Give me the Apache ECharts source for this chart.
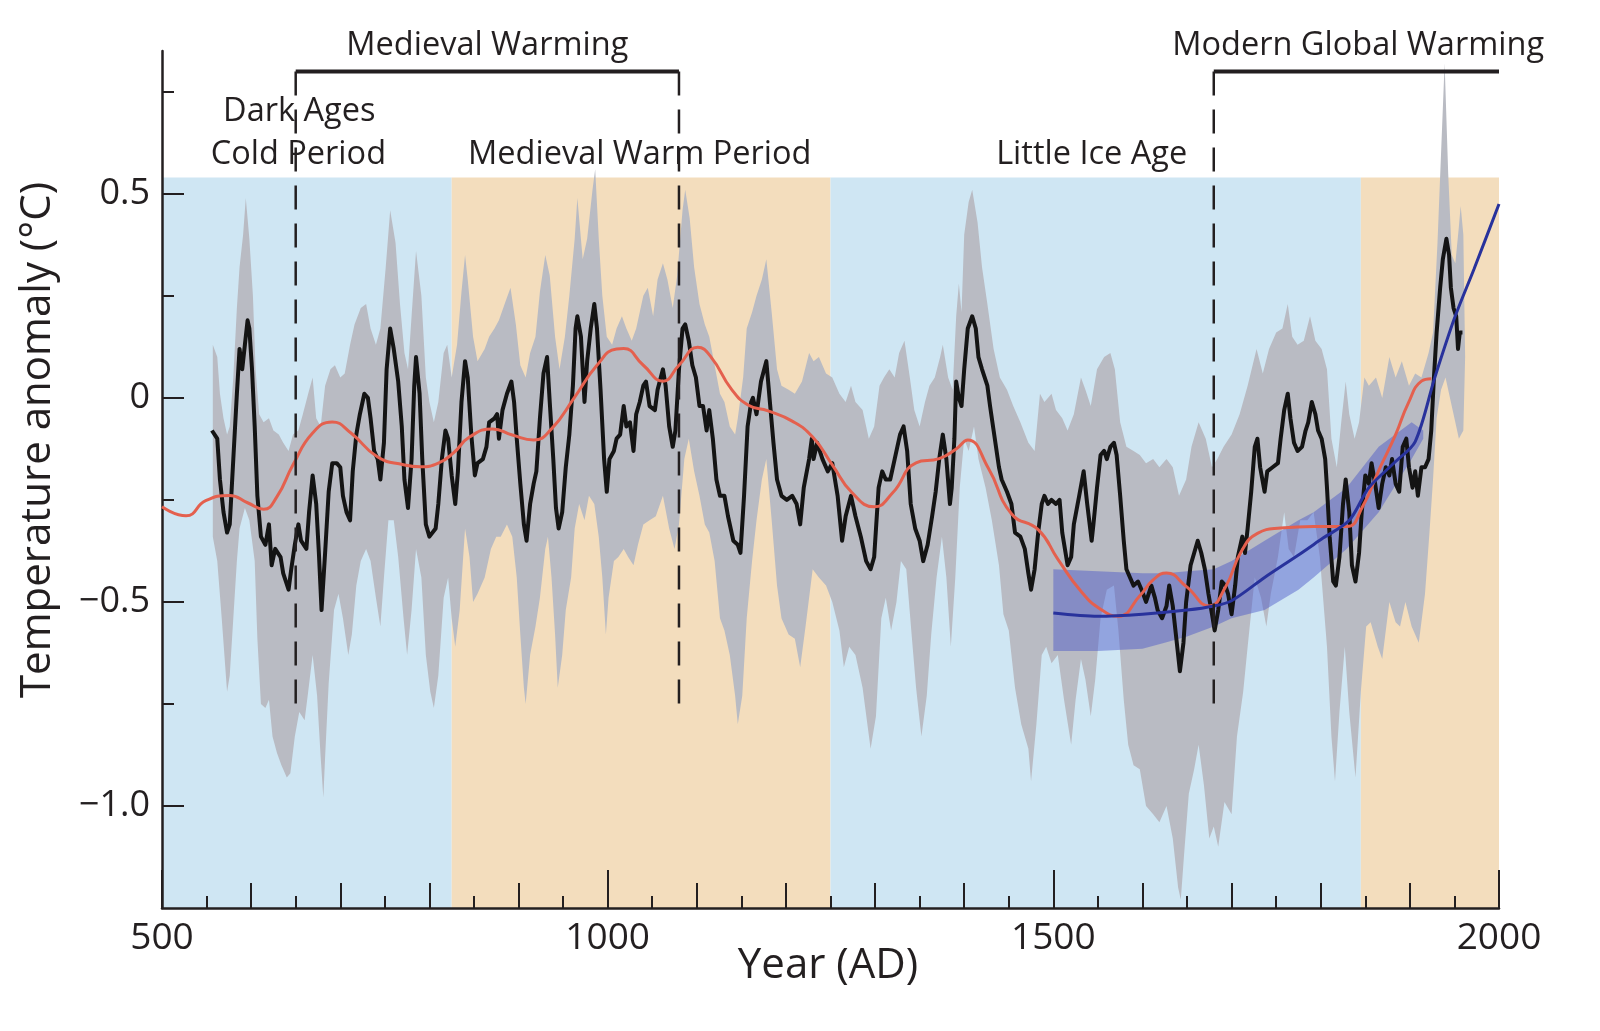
<!DOCTYPE html>
<html>
<head>
<meta charset="utf-8">
<title>Temperature anomaly 500-2000 AD</title>
<script src="https://cdn.jsdelivr.net/npm/echarts@6/dist/echarts.min.js"></script>
<style>
  html, body { margin: 0; padding: 0; background: #fff; }
  #chart { width: 1600px; height: 1031px; }
</style>
</head>
<body>
<div id="chart"></div>
<script>
// values: [year AD, anomaly in degC]
const blackLine = [[556,-0.08],[562,-0.10],[565,-0.20],[569,-0.28],[573,-0.33],[576,-0.31],[580,-0.15],[584,0.01],[587,0.12],[590,0.07],[593,0.13],[596,0.19],[598,0.17],[601,0.07],[604,-0.07],[607,-0.24],[611,-0.34],[616,-0.36],[620,-0.31],[623,-0.41],[627,-0.37],[633,-0.39],[636,-0.43],[642,-0.47],[645,-0.42],[649,-0.36],[653,-0.31],[656,-0.35],[662,-0.37],[665,-0.28],[669,-0.19],[673,-0.26],[676,-0.38],[679,-0.52],[683,-0.38],[687,-0.23],[691,-0.16],[696,-0.16],[700,-0.17],[703,-0.24],[707,-0.28],[711,-0.30],[714,-0.18],[718,-0.09],[722,-0.04],[727,0.01],[731,0.00],[734,-0.05],[738,-0.13],[742,-0.15],[745,-0.20],[749,-0.11],[752,0.07],[756,0.17],[760,0.12],[765,0.04],[769,-0.07],[772,-0.20],[776,-0.27],[780,-0.15],[783,0.03],[785,0.10],[789,0.01],[792,-0.15],[796,-0.31],[800,-0.34],[807,-0.32],[810,-0.26],[814,-0.15],[818,-0.08],[821,-0.10],[825,-0.19],[829,-0.26],[832,-0.18],[836,-0.01],[840,0.09],[843,0.05],[847,-0.09],[851,-0.19],[854,-0.16],[860,-0.15],[864,-0.12],[867,-0.06],[873,-0.05],[876,-0.04],[878,-0.10],[882,-0.03],[887,0.01],[892,0.04],[895,-0.01],[898,-0.10],[902,-0.21],[906,-0.31],[909,-0.35],[913,-0.26],[917,-0.21],[920,-0.18],[924,-0.05],[928,0.06],[932,0.10],[935,-0.01],[939,-0.15],[942,-0.27],[945,-0.32],[949,-0.28],[953,-0.17],[957,-0.09],[961,0.03],[964,0.17],[966,0.20],[970,0.15],[974,-0.01],[977,0.09],[981,0.17],[985,0.23],[988,0.17],[992,0.02],[996,-0.15],[999,-0.23],[1002,-0.15],[1007,-0.13],[1010,-0.10],[1014,-0.09],[1018,-0.02],[1021,-0.07],[1025,-0.06],[1029,-0.13],[1032,-0.04],[1036,-0.01],[1040,0.03],[1043,0.04],[1047,-0.02],[1053,-0.03],[1056,0.02],[1062,0.07],[1065,0.03],[1069,-0.07],[1073,-0.12],[1076,-0.08],[1080,0.07],[1084,0.17],[1087,0.18],[1091,0.14],[1095,0.08],[1099,0.05],[1103,-0.02],[1107,-0.02],[1111,-0.08],[1114,-0.03],[1118,-0.10],[1122,-0.20],[1126,-0.24],[1131,-0.24],[1135,-0.29],[1141,-0.35],[1146,-0.36],[1149,-0.38],[1153,-0.24],[1157,-0.07],[1161,-0.01],[1163,0.00],[1167,-0.04],[1172,0.04],[1178,0.09],[1182,-0.01],[1186,-0.11],[1190,-0.20],[1195,-0.24],[1201,-0.25],[1207,-0.24],[1212,-0.26],[1216,-0.31],[1220,-0.22],[1226,-0.15],[1229,-0.10],[1231,-0.15],[1235,-0.11],[1241,-0.15],[1247,-0.18],[1252,-0.16],[1258,-0.24],[1263,-0.35],[1267,-0.29],[1273,-0.24],[1278,-0.29],[1284,-0.34],[1290,-0.40],[1295,-0.42],[1299,-0.39],[1304,-0.22],[1308,-0.18],[1312,-0.20],[1317,-0.20],[1322,-0.15],[1328,-0.09],[1332,-0.07],[1336,-0.13],[1340,-0.26],[1345,-0.32],[1350,-0.35],[1354,-0.40],[1359,-0.36],[1364,-0.29],[1368,-0.23],[1372,-0.15],[1376,-0.09],[1380,-0.15],[1384,-0.26],[1386,-0.22],[1389,-0.10],[1391,0.04],[1394,0.00],[1397,-0.02],[1400,0.07],[1404,0.17],[1409,0.20],[1413,0.17],[1416,0.10],[1420,0.07],[1426,0.03],[1429,-0.02],[1433,-0.08],[1439,-0.17],[1442,-0.20],[1448,-0.23],[1453,-0.26],[1457,-0.33],[1463,-0.34],[1468,-0.37],[1472,-0.43],[1475,-0.47],[1479,-0.42],[1483,-0.33],[1487,-0.26],[1490,-0.24],[1494,-0.26],[1498,-0.25],[1503,-0.26],[1507,-0.25],[1510,-0.33],[1516,-0.41],[1520,-0.39],[1523,-0.31],[1529,-0.24],[1534,-0.18],[1538,-0.26],[1543,-0.35],[1545,-0.31],[1549,-0.22],[1553,-0.14],[1557,-0.13],[1560,-0.15],[1564,-0.12],[1568,-0.11],[1571,-0.14],[1575,-0.24],[1579,-0.35],[1582,-0.42],[1586,-0.44],[1590,-0.46],[1595,-0.45],[1599,-0.47],[1604,-0.50],[1610,-0.46],[1614,-0.49],[1617,-0.52],[1622,-0.54],[1627,-0.51],[1630,-0.46],[1634,-0.51],[1638,-0.59],[1642,-0.67],[1646,-0.60],[1649,-0.50],[1654,-0.41],[1658,-0.38],[1662,-0.35],[1666,-0.38],[1670,-0.42],[1674,-0.48],[1678,-0.53],[1681,-0.57],[1685,-0.52],[1689,-0.45],[1693,-0.46],[1696,-0.48],[1700,-0.53],[1704,-0.46],[1707,-0.39],[1712,-0.34],[1715,-0.38],[1718,-0.32],[1722,-0.23],[1726,-0.12],[1729,-0.10],[1732,-0.17],[1737,-0.23],[1740,-0.18],[1746,-0.17],[1752,-0.16],[1755,-0.10],[1759,-0.03],[1763,0.01],[1766,-0.05],[1770,-0.11],[1774,-0.13],[1779,-0.12],[1783,-0.08],[1786,-0.06],[1790,-0.01],[1794,-0.04],[1797,-0.08],[1801,-0.10],[1805,-0.15],[1807,-0.22],[1810,-0.34],[1814,-0.45],[1817,-0.46],[1821,-0.39],[1825,-0.26],[1828,-0.20],[1832,-0.28],[1835,-0.41],[1839,-0.45],[1843,-0.38],[1846,-0.28],[1850,-0.19],[1854,-0.21],[1857,-0.16],[1861,-0.21],[1865,-0.27],[1869,-0.21],[1873,-0.17],[1877,-0.19],[1880,-0.15],[1884,-0.21],[1888,-0.23],[1892,-0.12],[1896,-0.10],[1899,-0.17],[1903,-0.22],[1906,-0.18],[1909,-0.24],[1913,-0.17],[1917,-0.17],[1921,-0.15],[1924,-0.08],[1927,0.05],[1930,0.16],[1934,0.27],[1937,0.34],[1941,0.39],[1944,0.35],[1946,0.27],[1949,0.22],[1952,0.20],[1954,0.12],[1956,0.16],[1959,0.16]];

const greyTop = [[557,0.13],[562,0.10],[565,0.01],[569,-0.05],[573,-0.09],[576,-0.07],[580,0.05],[584,0.22],[587,0.32],[591,0.40],[594,0.49],[598,0.39],[602,0.25],[605,0.07],[609,-0.04],[614,-0.06],[620,-0.05],[625,-0.08],[631,-0.09],[636,-0.11],[642,-0.13],[647,-0.09],[653,-0.08],[658,-0.04],[664,0.01],[669,0.05],[673,-0.05],[678,-0.07],[683,0.03],[689,0.07],[694,0.08],[700,0.05],[705,0.06],[711,0.13],[716,0.18],[723,0.22],[729,0.23],[734,0.17],[740,0.13],[745,0.17],[751,0.32],[756,0.46],[762,0.38],[767,0.23],[772,0.11],[776,0.07],[780,0.20],[785,0.36],[791,0.25],[796,0.05],[800,-0.01],[805,-0.06],[810,-0.01],[816,0.11],[820,0.13],[825,0.05],[831,0.13],[836,0.26],[840,0.35],[843,0.29],[849,0.15],[854,0.09],[862,0.12],[867,0.15],[873,0.17],[878,0.19],[886,0.24],[891,0.27],[897,0.18],[902,0.08],[908,0.05],[913,0.11],[919,0.15],[924,0.26],[930,0.35],[935,0.30],[941,0.15],[946,0.07],[952,0.15],[957,0.25],[963,0.39],[966,0.49],[972,0.34],[977,0.39],[983,0.51],[986,0.56],[990,0.39],[994,0.25],[999,0.15],[1005,0.13],[1010,0.17],[1016,0.20],[1021,0.17],[1027,0.14],[1032,0.17],[1040,0.25],[1045,0.27],[1051,0.20],[1056,0.29],[1062,0.33],[1067,0.29],[1073,0.22],[1078,0.30],[1084,0.46],[1087,0.51],[1092,0.44],[1097,0.32],[1103,0.23],[1109,0.18],[1114,0.15],[1120,0.08],[1126,0.01],[1131,-0.01],[1137,-0.07],[1143,-0.09],[1146,-0.05],[1152,0.05],[1156,0.17],[1162,0.21],[1167,0.25],[1173,0.29],[1178,0.34],[1184,0.21],[1190,0.07],[1195,0.03],[1203,0.02],[1210,0.01],[1218,0.04],[1226,0.11],[1231,0.09],[1237,0.10],[1245,0.06],[1252,0.05],[1260,0.01],[1267,-0.01],[1273,0.03],[1278,-0.01],[1286,-0.03],[1293,-0.10],[1299,-0.07],[1305,0.03],[1310,0.05],[1316,0.07],[1322,0.05],[1327,0.11],[1333,0.14],[1339,0.05],[1344,-0.03],[1350,-0.07],[1356,-0.01],[1361,0.03],[1367,0.05],[1373,0.10],[1376,0.13],[1382,0.05],[1387,0.02],[1391,0.20],[1394,0.28],[1397,0.21],[1400,0.40],[1405,0.48],[1409,0.51],[1415,0.43],[1420,0.32],[1426,0.23],[1433,0.12],[1440,0.05],[1448,0.02],[1455,-0.02],[1463,-0.06],[1472,-0.11],[1479,-0.13],[1485,0.01],[1490,-0.01],[1498,0.01],[1503,-0.03],[1510,-0.05],[1516,-0.08],[1523,-0.04],[1531,0.05],[1536,0.02],[1542,-0.02],[1549,0.07],[1557,0.10],[1564,0.11],[1569,0.07],[1575,-0.06],[1582,-0.12],[1590,-0.13],[1597,-0.14],[1604,-0.16],[1612,-0.15],[1619,-0.17],[1627,-0.15],[1634,-0.17],[1641,-0.24],[1649,-0.20],[1655,-0.12],[1663,-0.06],[1671,-0.10],[1678,-0.17],[1684,-0.15],[1691,-0.12],[1700,-0.09],[1709,-0.04],[1718,0.03],[1728,0.12],[1735,0.06],[1742,0.12],[1750,0.16],[1757,0.17],[1763,0.23],[1768,0.15],[1774,0.13],[1781,0.14],[1788,0.20],[1794,0.14],[1801,0.12],[1807,0.07],[1812,-0.10],[1818,-0.17],[1823,-0.06],[1828,0.04],[1832,-0.04],[1838,-0.10],[1843,-0.06],[1849,0.05],[1854,0.03],[1862,0.05],[1869,0.00],[1877,0.10],[1884,0.05],[1891,0.09],[1899,0.03],[1906,0.06],[1913,0.05],[1921,0.11],[1926,0.16],[1931,0.38],[1935,0.60],[1939,0.82],[1943,0.55],[1947,0.35],[1951,0.33],[1955,0.42],[1957,0.47],[1960,0.40],[1962,0.10]];

const greyBottom = [[557,-0.34],[562,-0.40],[567,-0.54],[573,-0.72],[576,-0.68],[580,-0.54],[584,-0.40],[587,-0.32],[593,-0.27],[598,-0.30],[604,-0.40],[607,-0.59],[611,-0.75],[616,-0.76],[620,-0.74],[624,-0.83],[629,-0.87],[634,-0.90],[640,-0.93],[644,-0.92],[649,-0.83],[654,-0.77],[660,-0.79],[664,-0.72],[669,-0.63],[674,-0.73],[678,-0.88],[681,-0.98],[683,-0.88],[687,-0.70],[693,-0.52],[698,-0.48],[703,-0.54],[709,-0.63],[713,-0.58],[718,-0.46],[723,-0.40],[729,-0.37],[734,-0.40],[740,-0.49],[745,-0.56],[749,-0.44],[754,-0.30],[760,-0.30],[765,-0.39],[771,-0.54],[775,-0.63],[780,-0.52],[785,-0.37],[791,-0.44],[796,-0.63],[801,-0.72],[805,-0.76],[810,-0.68],[816,-0.49],[821,-0.44],[825,-0.54],[829,-0.61],[834,-0.52],[840,-0.32],[845,-0.39],[849,-0.50],[854,-0.48],[862,-0.44],[869,-0.37],[875,-0.34],[880,-0.34],[887,-0.31],[893,-0.34],[898,-0.44],[902,-0.58],[906,-0.71],[908,-0.75],[913,-0.63],[919,-0.56],[924,-0.49],[930,-0.37],[933,-0.34],[937,-0.44],[941,-0.58],[944,-0.71],[949,-0.63],[953,-0.52],[959,-0.44],[963,-0.32],[968,-0.26],[974,-0.30],[979,-0.24],[985,-0.26],[990,-0.34],[994,-0.44],[998,-0.58],[1001,-0.49],[1007,-0.40],[1012,-0.39],[1018,-0.37],[1023,-0.39],[1029,-0.41],[1034,-0.36],[1040,-0.31],[1047,-0.30],[1054,-0.29],[1062,-0.24],[1069,-0.32],[1075,-0.37],[1080,-0.31],[1086,-0.15],[1091,-0.10],[1097,-0.18],[1103,-0.24],[1109,-0.31],[1114,-0.33],[1120,-0.40],[1126,-0.54],[1131,-0.57],[1137,-0.63],[1143,-0.73],[1146,-0.80],[1151,-0.73],[1156,-0.54],[1162,-0.40],[1167,-0.30],[1173,-0.20],[1178,-0.15],[1184,-0.30],[1190,-0.46],[1195,-0.54],[1203,-0.58],[1210,-0.59],[1216,-0.66],[1222,-0.56],[1230,-0.42],[1237,-0.44],[1245,-0.46],[1252,-0.50],[1260,-0.57],[1265,-0.66],[1271,-0.61],[1278,-0.63],[1286,-0.71],[1292,-0.81],[1295,-0.86],[1301,-0.78],[1307,-0.54],[1312,-0.49],[1318,-0.57],[1324,-0.50],[1329,-0.40],[1335,-0.42],[1341,-0.58],[1346,-0.71],[1352,-0.83],[1358,-0.73],[1363,-0.58],[1369,-0.44],[1375,-0.34],[1380,-0.44],[1385,-0.61],[1390,-0.44],[1395,-0.22],[1400,-0.10],[1405,-0.13],[1411,-0.07],[1416,-0.15],[1424,-0.22],[1431,-0.30],[1439,-0.41],[1444,-0.53],[1450,-0.57],[1457,-0.71],[1464,-0.80],[1472,-0.86],[1475,-0.94],[1481,-0.80],[1487,-0.63],[1492,-0.61],[1498,-0.65],[1505,-0.63],[1512,-0.74],[1520,-0.85],[1525,-0.74],[1531,-0.64],[1536,-0.69],[1542,-0.78],[1547,-0.69],[1553,-0.54],[1560,-0.47],[1568,-0.46],[1573,-0.57],[1579,-0.74],[1584,-0.85],[1590,-0.90],[1597,-0.91],[1604,-1.00],[1612,-1.02],[1619,-1.04],[1627,-1.00],[1634,-1.08],[1640,-1.20],[1643,-1.23],[1647,-1.11],[1652,-0.97],[1658,-0.91],[1663,-0.85],[1669,-0.95],[1675,-1.08],[1680,-1.05],[1685,-1.10],[1692,-0.99],[1700,-1.02],[1706,-0.83],[1713,-0.72],[1718,-0.61],[1726,-0.44],[1733,-0.49],[1739,-0.56],[1744,-0.48],[1752,-0.39],[1759,-0.28],[1764,-0.37],[1770,-0.39],[1777,-0.30],[1785,-0.30],[1792,-0.28],[1799,-0.39],[1807,-0.61],[1812,-0.83],[1816,-0.94],[1821,-0.77],[1827,-0.61],[1832,-0.77],[1839,-0.93],[1845,-0.72],[1851,-0.56],[1856,-0.55],[1864,-0.61],[1869,-0.64],[1877,-0.50],[1884,-0.55],[1889,-0.56],[1895,-0.50],[1902,-0.56],[1910,-0.60],[1917,-0.48],[1922,-0.33],[1926,-0.20],[1930,-0.05],[1935,0.02],[1940,0.05],[1945,0.00],[1950,-0.05],[1955,-0.10],[1960,-0.08],[1962,0.10]];

const redLine = [[500,-0.267],[527,-0.289],[549,-0.252],[576,-0.239],[596,-0.257],[614,-0.273],[629,-0.242],[647,-0.164],[669,-0.086],[691,-0.059],[712,-0.086],[742,-0.145],[771,-0.164],[790,-0.169],[810,-0.16],[827,-0.135],[845,-0.096],[871,-0.076],[893,-0.091],[917,-0.103],[937,-0.076],[963,0.002],[988,0.08],[1010,0.12],[1018,0.121],[1040,0.08],[1062,0.041],[1080,0.08],[1101,0.124],[1116,0.10],[1139,0.021],[1158,-0.018],[1180,-0.032],[1207,-0.057],[1230,-0.096],[1252,-0.164],[1274,-0.232],[1299,-0.267],[1320,-0.232],[1346,-0.159],[1372,-0.149],[1391,-0.125],[1404,-0.103],[1427,-0.172],[1453,-0.284],[1483,-0.323],[1505,-0.395],[1531,-0.474],[1553,-0.518],[1573,-0.535],[1597,-0.485],[1612,-0.446],[1627,-0.429],[1649,-0.462],[1675,-0.51],[1693,-0.464],[1711,-0.376],[1729,-0.332],[1755,-0.319],[1792,-0.315],[1829,-0.315],[1847,-0.266],[1865,-0.178],[1884,-0.09],[1898,-0.014],[1913,0.041],[1924,0.047]];

const blueLine = [[1500,-0.527],[1550,-0.535],[1600,-0.53],[1650,-0.52],[1680,-0.51],[1700,-0.497],[1737,-0.44],[1775,-0.385],[1803,-0.343],[1832,-0.30],[1854,-0.22],[1884,-0.156],[1906,-0.107],[1928,0.05],[1950,0.195],[1972,0.316],[2000,0.475]];

const blueTop = [[1500,-0.42],[1550,-0.425],[1600,-0.43],[1625,-0.43],[1650,-0.425],[1680,-0.42],[1700,-0.40],[1737,-0.35],[1775,-0.30],[1792,-0.28],[1829,-0.22],[1865,-0.12],[1902,-0.06],[1915,-0.08]];
const blueBottom = [[1500,-0.62],[1550,-0.62],[1600,-0.615],[1625,-0.60],[1650,-0.585],[1680,-0.56],[1700,-0.54],[1737,-0.52],[1775,-0.47],[1792,-0.44],[1829,-0.37],[1865,-0.28],[1902,-0.15],[1915,-0.10]];

// shaded periods: [from, to, colour]
const periods = [[500, 825, '#cfe6f3'], [825, 1250, '#f3ddbd'], [1250, 1845, '#cfe6f3'], [1845, 2000, '#f3ddbd']];
const periodTop = 0.54;

const dashedYears = [650, 1080, 1680];
const brackets = [[650, 1080], [1680, 2000]];
const bracketLevel = 0.8;
const dashedBottom = -0.78;

const yMajor = [-1, -0.5, 0, 0.5];
const yMinor = [-0.75, -0.25, 0.25, 0.75];

const notes = [
  ['Medieval Warming', 865, 0.862],
  ['Modern Global Warming', 1842, 0.862],
  ['Dark Ages', 654, 0.70],
  ['Cold Period', 653, 0.595],
  ['Medieval Warm Period', 1036, 0.595],
  ['Little Ice Age', 1543, 0.595]
];

const FONT = '"Open Sans", "Noto Sans", sans-serif';
const INK = '#231f20';

const chart = echarts.init(document.getElementById('chart'));

function polygonSeries(top, bottom, fill, z) {
  return {
    type: 'custom',
    z: z,
    silent: true,
    data: [top[0]],
    renderItem: function (params, api) {
      const pts = top.map(function (p) { return api.coord(p); });
      for (let i = bottom.length - 1; i >= 0; i--) {
        pts.push(api.coord(bottom[i]));
      }
      return { type: 'polygon', shape: { points: pts }, style: { fill: fill } };
    }
  };
}

function plainLine(data, style, z) {
  return {
    type: 'line',
    data: data,
    z: z,
    silent: true,
    symbol: 'none',
    lineStyle: style
  };
}

const series = [
  {
    type: 'custom',
    z: 0,
    silent: true,
    data: periods,
    encode: { x: [0, 1] },
    renderItem: function (params, api) {
      const p = periods[params.dataIndex];
      const a = api.coord([p[0], periodTop]);
      const b = api.coord([p[1], -1.25]);
      return { type: 'rect', shape: { x: a[0], y: a[1], width: b[0] - a[0], height: b[1] - a[1] }, style: { fill: p[2] } };
    }
  },
  polygonSeries(greyTop, greyBottom, '#b9bbc3', 1),
  polygonSeries(blueTop, blueBottom, 'rgba(70, 84, 200, 0.45)', 2),
  plainLine(blackLine, { color: '#141414', width: 4, join: 'round' }, 3),
  Object.assign(plainLine(redLine, { color: '#e4604e', width: 3 }, 4), { smooth: 0.5 }),
  Object.assign(plainLine(blueLine, { color: '#28329c', width: 3 }, 5), { smooth: 0.3 })
];

dashedYears.forEach(function (yr) {
  series.push(plainLine([[yr, bracketLevel], [yr, dashedBottom]], { color: INK, width: 2.5, type: [24, 14] }, 6));
});
brackets.forEach(function (b) {
  series.push(plainLine([[b[0], bracketLevel], [b[1], bracketLevel]], { color: INK, width: 4 }, 6));
});

const tickStyle = { color: INK, width: 2 };

const option = {
  animation: false,
  backgroundColor: '#ffffff',
  grid: { left: 162, top: 51, width: 1337, height: 857, containLabel: false },
  xAxis: [
    {
      type: 'value', min: 500, max: 2000, interval: 500, position: 'bottom',
      axisLine: { show: true, onZero: false, lineStyle: { color: INK, width: 2.5 } },
      axisTick: { show: true, inside: true, length: 38, lineStyle: tickStyle },
      axisLabel: {
        color: INK, fontSize: 37, fontFamily: FONT, margin: 12,
        formatter: function (v) { return String(v); }
      },
      splitLine: { show: false }
    },
    {
      type: 'value', min: 500, max: 2000, interval: 100, position: 'bottom',
      axisLine: { show: false, onZero: false },
      axisTick: { show: true, inside: true, length: 25, lineStyle: tickStyle },
      minorTick: { show: true, splitNumber: 2, length: 12, lineStyle: tickStyle },
      axisLabel: { show: false },
      splitLine: { show: false }
    }
  ],
  yAxis: [
    {
      type: 'value', min: -1.25, max: 0.85, position: 'left',
      axisLine: { show: true, onZero: false, lineStyle: { color: INK, width: 2.5 } },
      axisTick: { show: true, inside: true, length: 22, customValues: yMajor, lineStyle: tickStyle },
      axisLabel: {
        customValues: yMajor, color: INK, fontSize: 36, fontFamily: FONT, margin: 12,
        formatter: function (v) {
          if (v === 0) return '0';
          return (v < 0 ? '\u2212' : '') + Math.abs(v).toFixed(1);
        }
      },
      splitLine: { show: false }
    },
    {
      type: 'value', min: -1.25, max: 0.85, position: 'left',
      axisLine: { show: false, onZero: false },
      axisTick: { show: true, inside: true, length: 12, customValues: yMinor, lineStyle: tickStyle },
      axisLabel: { show: false },
      splitLine: { show: false }
    }
  ],
  series: series
};

chart.setOption(option);

// annotations placed from data coordinates
const graphics = notes.map(function (n) {
  const p = chart.convertToPixel({ xAxisIndex: 0, yAxisIndex: 0 }, [n[1], n[2]]);
  return {
    type: 'text', x: p[0], y: p[1], z: 20,
    style: { text: n[0], fontSize: 32.5, fontFamily: FONT, fill: INK, align: 'center', verticalAlign: 'middle' }
  };
});
graphics.push({
  type: 'text', x: 38, y: 440, rotation: Math.PI / 2, z: 20,
  style: { text: 'Temperature anomaly (\u00b0C)', fontSize: 42, fontFamily: FONT, fill: INK, align: 'center', verticalAlign: 'middle' }
});
graphics.push({
  type: 'text', x: 828, y: 966, z: 20,
  style: { text: 'Year (AD)', fontSize: 42, fontFamily: FONT, fill: INK, align: 'center', verticalAlign: 'middle' }
});
chart.setOption({ graphic: graphics });
</script>
</body>
</html>
